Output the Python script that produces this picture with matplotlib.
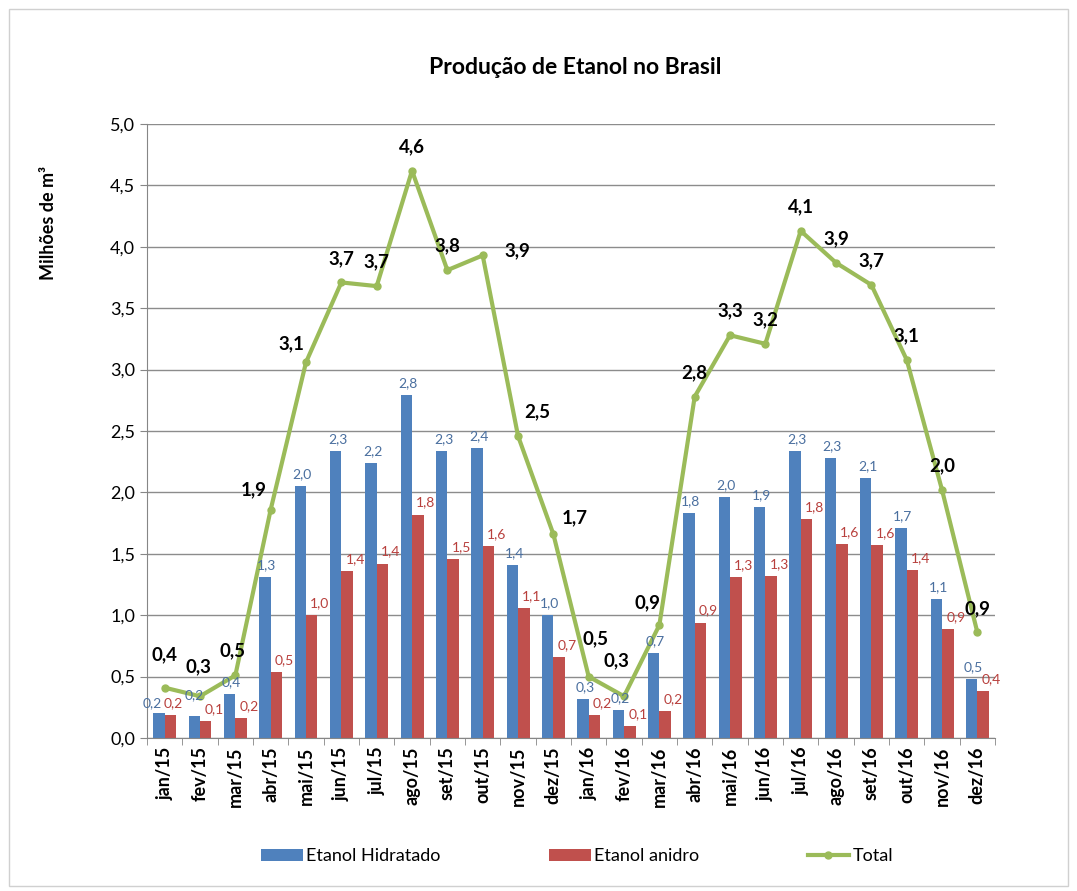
import numpy as np
import matplotlib
matplotlib.use('Agg')
import matplotlib.pyplot as plt
from matplotlib.patches import Rectangle

plt.rcParams['font.family'] = ['Lato', 'DejaVu Sans']

# dados (milhões de m3)
meses = ['jan/15', 'fev/15', 'mar/15', 'abr/15', 'mai/15', 'jun/15', 'jul/15', 'ago/15',
         'set/15', 'out/15', 'nov/15', 'dez/15', 'jan/16', 'fev/16', 'mar/16', 'abr/16',
         'mai/16', 'jun/16', 'jul/16', 'ago/16', 'set/16', 'out/16', 'nov/16', 'dez/16']
hidratado = [0.20, 0.18, 0.36, 1.31, 2.05, 2.34, 2.24, 2.79, 2.34, 2.36, 1.41, 1.00,
             0.32, 0.23, 0.69, 1.83, 1.96, 1.88, 2.34, 2.28, 2.12, 1.71, 1.13, 0.48]
anidro = [0.19, 0.14, 0.16, 0.54, 1.00, 1.36, 1.42, 1.82, 1.46, 1.56, 1.06, 0.66,
          0.19, 0.10, 0.22, 0.94, 1.31, 1.32, 1.78, 1.58, 1.57, 1.37, 0.89, 0.38]
total = [0.41, 0.34, 0.51, 1.86, 3.06, 3.71, 3.68, 4.62, 3.81, 3.93, 2.46, 1.66,
         0.50, 0.34, 0.92, 2.78, 3.28, 3.21, 4.13, 3.87, 3.69, 3.08, 2.02, 0.86]

# deslocamento dos rótulos do total (pixels), padrão (0, 24)
ajuste_total = {0: (0, 33), 1: (-2, 30), 2: (-3, 25), 3: (-17, 20), 4: (-15, 19),
                9: (35, 5), 10: (19, 24), 11: (21, 16), 12: (7, 38), 13: (-8, 36),
                14: (-12, 22)}
# rótulos das barras que ficam encostados
ajuste_azul = {0: (-7, 4), 1: (0, 15)}
ajuste_verm = {0: (3, 6)}

azul = '#4F81BD'
vermelho = '#C0504D'
verde = '#9BBB59'

def fmt(v):
    return f'{v:.1f}'.replace('.', ',')

fig = plt.figure(figsize=(10.77, 8.91), dpi=100)
ax = fig.add_axes([0.1365, 0.1717, 0.7874, 0.6891])

x = np.arange(len(meses))
w = 0.325
b1 = ax.bar(x - w / 2, hidratado, w, color=azul, label='Etanol Hidratado', zorder=2)
b2 = ax.bar(x + w / 2, anidro, w, color=vermelho, label='Etanol anidro', zorder=2)
ax.plot(x, total, color=verde, lw=3, marker='o', ms=5, label='Total', zorder=3)

for i in range(len(meses)):
    ax.annotate(fmt(hidratado[i]), (x[i] - w / 2, hidratado[i]),
                xytext=ajuste_azul.get(i, (2, 6)),
                textcoords='offset pixels', ha='center', va='bottom',
                fontsize=10, color='#4A6F9F', zorder=4)
    ax.annotate(fmt(anidro[i]), (x[i] + w / 2, anidro[i]),
                xytext=ajuste_verm.get(i, (8, 6)),
                textcoords='offset pixels', ha='center', va='bottom',
                fontsize=10, color='#B8403D', zorder=4)
    dx, dy = ajuste_total.get(i, (0, 24))
    ax.annotate(fmt(total[i]), (x[i], total[i]), xytext=(dx, dy),
                textcoords='offset pixels', ha='center', va='center',
                fontsize=13.5, fontweight='bold', color='black', zorder=5)

ax.set_xlim(-0.5, len(meses) - 0.5)
ax.set_ylim(0, 5)
ax.set_yticks(np.arange(0, 5.01, 0.5))
ax.set_yticklabels([fmt(v) for v in np.arange(0, 5.01, 0.5)], fontsize=13)
ax.set_xticks(x)
ax.set_xticklabels(meses, rotation=90, fontsize=13, fontweight='bold')
ax.set_xticks(np.arange(-0.5, len(meses), 1), minor=True)
ax.tick_params(axis='x', which='major', length=0, pad=6)
ax.tick_params(axis='x', which='minor', length=5, color='#868686')
ax.tick_params(axis='y', length=5, color='#868686')
ax.grid(axis='y', color='#8c8c8c', lw=1, zorder=0)
ax.set_axisbelow(True)
for s in ['top', 'right']:
    ax.spines[s].set_visible(False)
for s in ['left', 'bottom']:
    ax.spines[s].set_color('#868686')

fig.text(0.534, 0.924, 'Produção de Etanol no Brasil', ha='center', va='center',
         fontsize=16.5, fontweight='bold')
fig.text(0.045, 0.75, 'Milhões de m³', ha='center', va='center', rotation=90,
         fontsize=13, fontweight='bold')

fig.legend(handles=[b1, b2, ax.lines[0]], loc='center', bbox_to_anchor=(0.536, 0.039),
           ncol=3, frameon=False, fontsize=13, handlelength=2.3, columnspacing=6,
           handletextpad=0.2)

fig.patches.append(Rectangle((0.008, 0.006), 0.984, 0.984, transform=fig.transFigure,
                             fill=False, edgecolor='#d0d0d0', lw=1))

fig.savefig('out.png', dpi=100)
